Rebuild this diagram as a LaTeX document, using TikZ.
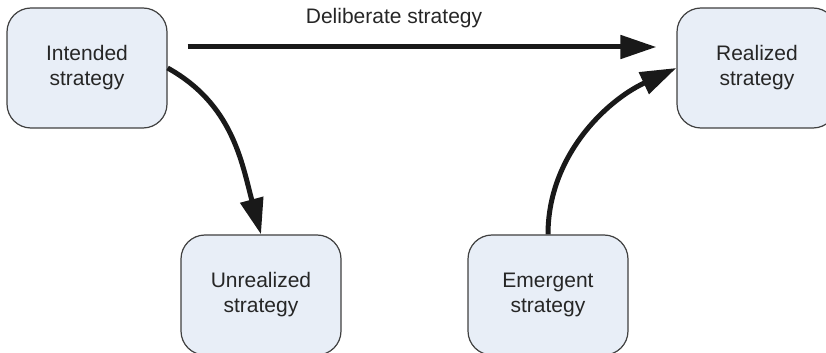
\documentclass[tikz,border=0pt]{standalone}
\usepackage{fontspec}
\setmainfont{Liberation Sans}
\usetikzlibrary{arrows.meta}
\definecolor{boxfill}{HTML}{E8EEF7}
\definecolor{boxline}{HTML}{404040}
\begin{document}
\begin{tikzpicture}[x=0.5pt, y=-0.5pt,
  box/.style={draw=boxline, line width=0.6pt, fill=boxfill, rounded corners=12pt,
    minimum width=80pt, minimum height=60pt, align=center,
    font=\fontsize{10.5}{12.5}\selectfont, text=black!85},
  flow/.style={line width=2.5pt, black!90,
    -{Triangle[length=18pt, width=11.5pt]}}]
  \useasboundingbox (0,0) rectangle (826,353);

  % Strategy boxes
  \node[box] (intended) at (87,68) {Intended\\strategy};
  \node[box] (realized) at (757,68) {Realized\\strategy};
  \node[box] (unrealized) at (261,295) {Unrealized\\strategy};
  \node[box] (emergent) at (548,295) {Emergent\\strategy};

  % Deliberate path
  \draw[flow, shorten <=10pt, shorten >=10pt]
    ([yshift=10.5pt]intended.east) -- ([yshift=10.5pt]realized.west)
    node[pos=0.445, above=5pt, font=\fontsize{10.5}{12.5}\selectfont, text=black!85] (deliberate) {Deliberate strategy};

  % Curved paths
  \draw[flow] (intended.east) to[out=-29, in=105] (unrealized.north);
  \draw[flow] (emergent.north) to[out=90, in=-155, looseness=0.95] (realized.west);
\end{tikzpicture}
\end{document}
